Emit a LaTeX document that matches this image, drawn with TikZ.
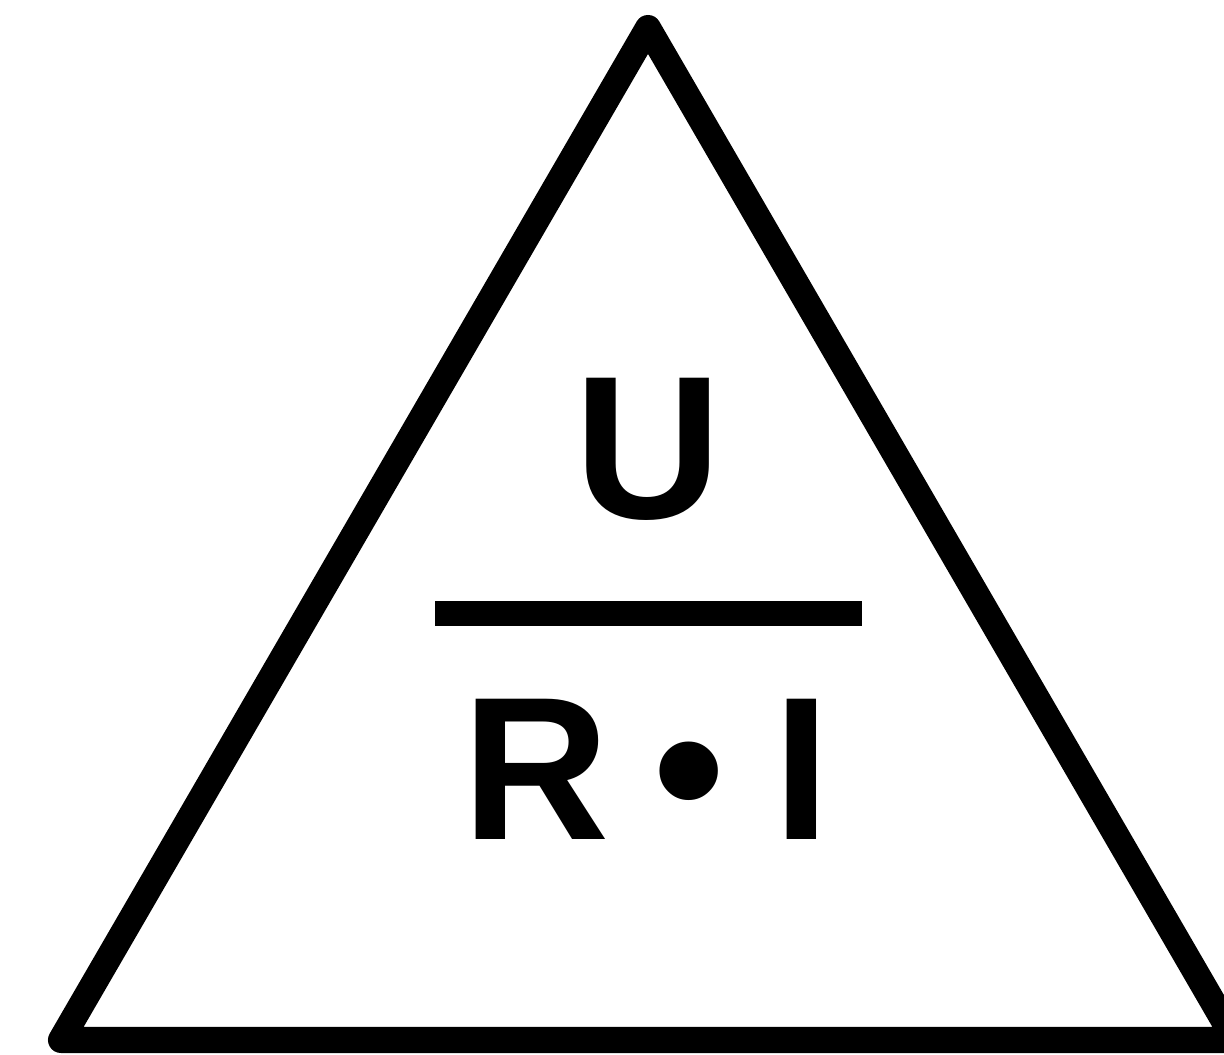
\documentclass[tikz,border=0pt]{standalone}
\usepackage{fontspec}
\setmainfont{Liberation Sans}
\tikzset{
  letter/.style={font=\fontsize{58}{62}\selectfont\bfseries, inner sep=0pt, anchor=base},
  rim/.style={line width=0.26cm, line join=round}
}
\begin{document}
\begin{tikzpicture}[x=0.01cm,y=-0.01cm]
    \useasboundingbox (0,0) rectangle (1224,1055);

    % Triangle corners
    \coordinate (top) at (648,28);
    \coordinate (left) at (61,1040);
    \coordinate (right) at (1235,1040);
    \draw[rim] (top) -- (left) -- (right) -- cycle;

    % Numerator
    \node[letter] (u) at (648,519) {U};

    % Fraction bar
    \fill (435,601) rectangle (862,626);

    % Denominator
    \node[letter, anchor=base west] (r) at (462,839) {R};
    \node[letter] (dot) at (689,838) {•};
    \node[letter] (i) at (802,839) {I};
\end{tikzpicture}
\end{document}
